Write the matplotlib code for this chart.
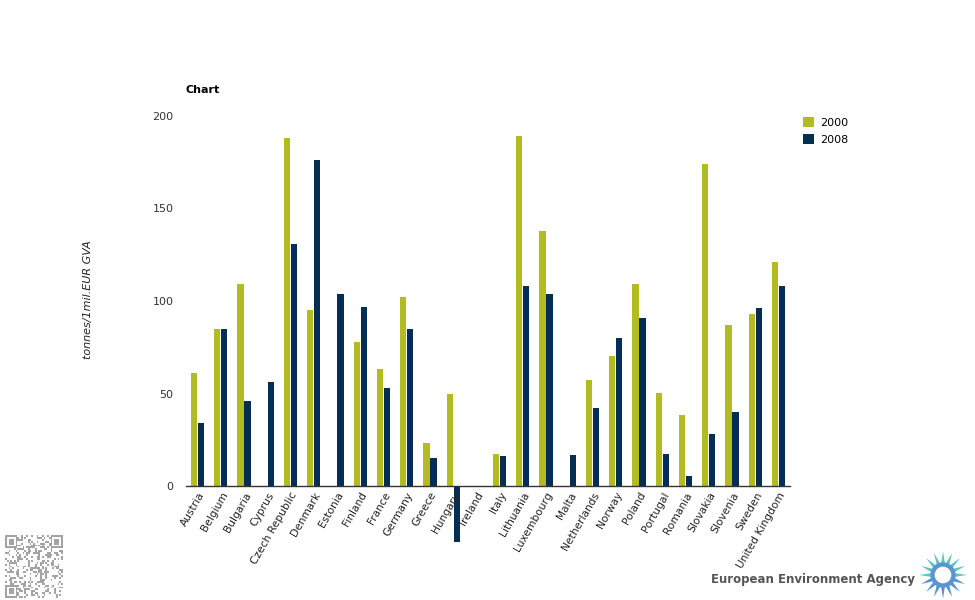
import matplotlib
matplotlib.use("Agg")
import matplotlib.pyplot as plt
import numpy as np
from matplotlib.patches import Polygon

# Данные
countries = ['Austria', 'Belgium', 'Bulgaria', 'Cyprus', 'Czech Republic', 'Denmark',
             'Estonia', 'Finland', 'France', 'Germany', 'Greece', 'Hungary', 'Ireland',
             'Italy', 'Lithuania', 'Luxembourg', 'Malta', 'Netherlands', 'Norway',
             'Poland', 'Portugal', 'Romania', 'Slovakia', 'Slovenia', 'Sweden',
             'United Kingdom']
values_2000 = [61, 85, 109, np.nan, 188, 95, np.nan, 78, 63, 102, 23, 49.5, np.nan,
               17.5, 189, 138, np.nan, 57.5, 70.5, 109, 50.5, 38.5, 174, 87, 93, 121]
values_2008 = [34, 85, 46, 56, 131, 176, 104, 97, 53, 85, 15, -30, np.nan,
               16, 108, 104, 16.5, 42, 80, 91, 17.5, 5.5, 28, 40, 96, 108]
series_labels = ['2000', '2008']
y_ticks = [0, 50, 100, 150, 200]

GREEN = '#b2bc22'
NAVY = '#052e54'

fig = plt.figure(figsize=(9.75, 6), dpi=100)
ax = fig.add_axes([186 / 975, 114 / 600, 604 / 975, 370 / 600])

x = np.arange(len(countries))
w = 0.27
b1 = ax.bar(x - 0.15, values_2000, w, color=GREEN, label=series_labels[0], clip_on=False)
b2 = ax.bar(x + 0.15, values_2008, w, color=NAVY, label=series_labels[1], clip_on=False)

ax.set_xlim(-0.5, len(countries) - 0.5)
ax.set_ylim(0, 200)
ax.set_yticks(y_ticks)
ax.set_yticklabels([str(v) for v in y_ticks], fontsize=8, color='#333333')
ax.set_xticks(x)
ax.set_xticklabels(countries, rotation=60, ha='right', va='top',
                   rotation_mode='anchor', fontsize=7.7, color='#222222')
ax.tick_params(axis='both', length=0)
ax.tick_params(axis='y', pad=9)
ax.tick_params(axis='x', pad=3)
for s in ['top', 'right', 'left']:
    ax.spines[s].set_visible(False)
ax.spines['bottom'].set_color('#333333')
ax.spines['bottom'].set_linewidth(1)
ax.spines['bottom'].set_zorder(5)

fig.text(186 / 975, 1 - 90 / 600, 'Chart', fontsize=8, fontweight='bold', va='center')
fig.text(88 / 975, 1 - 300 / 600, 'tonnes/1mil.EUR GVA', fontsize=8, style='italic',
         rotation=90, ha='center', va='center', color='#222222')

# Легенда
fig.legend(handles=[b1, b2], loc='upper left', bbox_to_anchor=(793 / 975, 1 - 107 / 600),
           frameon=False, fontsize=8, handlelength=1.0, handleheight=1.0,
           handletextpad=0.5, labelspacing=0.55)

# Подпись агентства и логотип
fig.text(915 / 975, 1 - 579 / 600, 'European Environment Agency', fontsize=8.5,
         color='#555555', ha='right', va='center', fontweight='bold')
lax = fig.add_axes([918 / 975, 0, 50 / 975, 50 / 600])
lax.set_xlim(-1.05, 1.05)
lax.set_ylim(-1.05, 1.05)
lax.set_aspect('equal')
lax.axis('off')
n_petals = 16
for k in range(n_petals):
    a = 2 * np.pi * k / n_petals
    da = np.pi / n_petals
    col = '#62c3c0' if np.sin(a) > -0.1 else '#5b95cf'
    pts = [(0.45 * np.cos(a - da), 0.45 * np.sin(a - da)),
           (1.0 * np.cos(a), 1.0 * np.sin(a)),
           (0.45 * np.cos(a + da), 0.45 * np.sin(a + da))]
    lax.add_patch(Polygon(pts, closed=True, color=col, lw=0))
lax.add_patch(plt.Circle((0, 0), 0.5, color='#5b95cf'))
lax.add_patch(plt.Circle((0, 0), 0.32, color='white'))

# QR-код (декоративный узор)
qax = fig.add_axes([5 / 975, 2 / 600, 58 / 975, 63 / 600])
qax.axis('off')
n = 33
ii, jj = np.meshgrid(np.arange(n), np.arange(n))
pattern = (((ii * 7 + jj * 13) ^ (ii * jj)) % 3 == 0).astype(float)
for (r, c) in [(0, 0), (0, n - 7), (n - 7, 0)]:
    pattern[r:r + 7, c:c + 7] = 0
    pattern[r:r + 7, c] = 1
    pattern[r:r + 7, c + 6] = 1
    pattern[r, c:c + 7] = 1
    pattern[r + 6, c:c + 7] = 1
    pattern[r + 2:r + 5, c + 2:c + 5] = 1
qax.imshow(pattern, cmap='Greys', vmin=0, vmax=2.2, aspect='auto', interpolation='nearest')

plt.savefig('out.png', dpi=100)
